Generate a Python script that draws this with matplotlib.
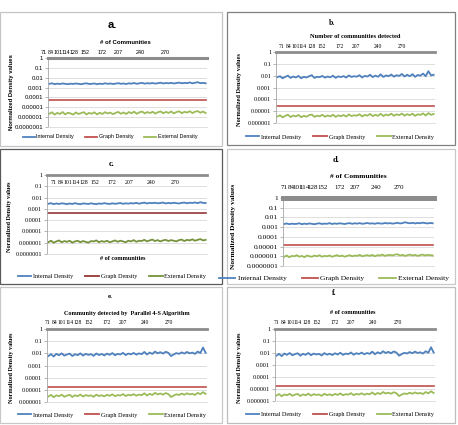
import numpy as np
import matplotlib
matplotlib.use('Agg')
import matplotlib.pyplot as plt
from matplotlib.patches import Rectangle
from matplotlib.lines import Line2D
from matplotlib.ticker import NullLocator

W, H = 458, 425

# ---- data ----
tick_labels = ['71', '84', '101', '114', '128', '152', '172', '207', '240', '270']
tick_pos = [1.2, 3.9, 6.6, 9.3, 12.5, 16.6, 23.2, 29.4, 37.6, 46.9]

a_internal = np.array([2.4, 2.7, 2.2, 2.5, 2.3, 2.6, 2.4, 2.2, 2.5, 2.3,
                       2.6, 2.4, 2.2, 2.5, 2.7, 2.3, 2.4, 2.6, 2.2, 2.5,
                       2.3, 2.7, 2.4, 2.6, 2.3, 2.5, 2.8, 2.4, 2.6, 2.3,
                       2.7, 2.5, 2.9, 2.4, 2.7, 3.0, 2.5, 2.8, 2.6, 2.9,
                       2.5, 2.8, 3.1, 2.6, 2.9, 2.7, 3.0, 2.6, 2.9, 3.2,
                       2.7, 3.0, 2.8, 3.3, 2.7, 3.1, 3.5, 2.8, 3.0, 2.7]) * 1e-3
a_external = np.array([2.2, 3.1, 1.8, 2.7, 2.1, 3.3, 1.9, 2.8, 2.4, 1.8,
                       3.0, 2.1, 2.6, 3.2, 1.9, 2.7, 2.2, 3.1, 1.9, 2.8,
                       2.1, 3.2, 2.4, 2.9, 2.0, 2.7, 3.4, 2.2, 3.0, 2.1,
                       3.3, 2.5, 3.6, 2.2, 3.1, 3.7, 2.4, 3.3, 2.6, 3.5,
                       2.3, 3.2, 3.8, 2.5, 3.4, 2.7, 3.7, 2.4, 3.3, 3.9,
                       2.5, 3.5, 2.9, 4.0, 2.6, 3.6, 4.1, 2.8, 3.7, 2.6]) * 1e-6
a_graph = 5e-5

b_internal = np.array([7.5, 9.0, 6.0, 8.0, 10.0, 6.5, 8.5, 7.0, 9.5, 6.0,
                       8.0, 7.0, 9.0, 11.0, 6.5, 8.0, 7.5, 9.5, 6.8, 8.5,
                       7.2, 10.0, 6.5, 8.8, 7.6, 9.2, 6.9, 10.5, 7.8, 9.0,
                       8.2, 11.0, 7.0, 9.6, 8.4, 12.0, 7.5, 10.2, 8.0, 13.0,
                       7.8, 10.5, 9.0, 12.5, 8.2, 11.0, 9.5, 14.0, 8.5, 12.0,
                       9.0, 13.5, 8.0, 11.5, 10.0, 15.0, 9.0, 24.0, 10.5, 12.0]) * 1e-3
b_external = np.array([3.5, 4.5, 3.0, 4.0, 5.0, 3.2, 4.2, 3.6, 4.8, 3.1,
                       4.0, 3.4, 4.6, 5.2, 3.3, 4.1, 3.7, 4.9, 3.4, 4.3,
                       3.6, 5.0, 3.3, 4.4, 3.8, 4.7, 3.5, 5.3, 3.9, 4.5,
                       4.1, 5.5, 3.6, 4.8, 4.2, 5.8, 3.8, 5.0, 4.0, 6.0,
                       3.9, 5.2, 4.4, 6.1, 4.1, 5.4, 4.6, 6.3, 4.2, 5.6,
                       4.5, 6.2, 4.0, 5.5, 4.8, 6.5, 4.3, 6.8, 4.9, 5.8]) * 1e-6
b_graph = 2.8e-5

c_internal = np.array([2.8, 3.2, 2.6, 3.0, 2.7, 3.1, 2.9, 2.6, 3.0, 2.7,
                       3.2, 2.8, 2.6, 3.0, 2.9, 2.7, 3.1, 2.8, 2.6, 3.0,
                       2.8, 3.2, 2.9, 2.7, 3.1, 2.8, 3.0, 3.3, 2.8, 3.1,
                       2.9, 3.2, 3.0, 3.4, 2.9, 3.2, 3.6, 3.0, 3.4, 3.2,
                       3.5, 3.1, 3.3, 3.6, 3.0, 3.4, 3.1, 3.5, 3.2, 3.0,
                       3.4, 3.6, 3.1, 3.5, 3.3, 3.7, 3.2, 3.9, 3.4, 3.3]) * 1e-3
c_external = np.array([1.1, 1.5, 1.0, 1.3, 1.6, 1.1, 1.4, 1.2, 1.5, 1.0,
                       1.3, 1.5, 1.1, 1.4, 1.2, 1.0, 1.4, 1.3, 1.6, 1.1,
                       1.4, 1.2, 1.5, 1.1, 1.3, 1.6, 1.2, 1.5, 1.3, 1.1,
                       1.5, 1.3, 1.7, 1.2, 1.5, 1.4, 1.8, 1.3, 1.6, 1.9,
                       1.4, 1.7, 1.3, 1.6, 1.8, 1.4, 1.7, 1.5, 1.3, 1.7,
                       1.9, 1.4, 1.8, 1.6, 2.0, 1.5, 1.8, 2.1, 1.6, 1.8]) * 1e-6
c_graph = 4e-4

d_internal = np.array([2.1, 2.4, 2.0, 2.3, 2.1, 2.2, 2.5, 2.0, 2.3, 2.1,
                       2.4, 2.2, 2.0, 2.3, 2.5, 2.1, 2.3, 2.2, 2.6, 2.1,
                       2.4, 2.2, 2.5, 2.3, 2.1, 2.4, 2.6, 2.2, 2.5, 2.3,
                       2.6, 2.2, 2.4, 2.7, 2.3, 2.5, 2.2, 2.6, 2.4, 2.3,
                       2.7, 2.4, 2.6, 2.3, 2.5, 2.8, 2.4, 2.6, 3.2, 2.7,
                       2.5, 2.8, 2.4, 2.7, 2.5, 2.9, 2.6, 2.4, 2.7, 2.5]) * 1e-3
d_external = np.array([0.9, 1.2, 0.8, 1.1, 1.0, 1.3, 0.9, 1.1, 0.8, 1.2,
                       1.0, 0.9, 1.2, 1.0, 1.3, 0.9, 1.1, 1.0, 1.2, 0.9,
                       1.1, 1.3, 1.0, 1.2, 0.9, 1.1, 1.3, 1.0, 1.2, 1.1,
                       1.4, 1.0, 1.2, 1.3, 1.1, 1.4, 1.0, 1.3, 1.2, 1.5,
                       1.1, 1.3, 1.4, 1.2, 1.5, 1.6, 1.2, 1.4, 1.1, 1.3,
                       1.5, 1.2, 1.4, 1.1, 1.3, 1.5, 1.2, 1.4, 1.3, 1.2]) * 1e-6
d_graph = 1.5e-5

e_internal = np.array([6.0, 8.5, 5.5, 9.0, 7.0, 10.0, 6.5, 8.0, 9.5, 6.0,
                       8.5, 7.0, 10.0, 6.5, 9.0, 7.5, 8.5, 6.2, 9.8, 7.2,
                       8.8, 6.8, 9.5, 7.5, 10.5, 7.0, 9.0, 8.0, 11.0, 7.2,
                       9.6, 8.2, 10.8, 7.8, 10.0, 8.5, 13.0, 8.0, 11.5, 9.0,
                       14.0, 10.0, 12.5, 9.5, 13.5, 11.0, 6.0, 8.0, 10.5, 9.0,
                       12.0, 9.5, 13.0, 10.0, 11.5, 9.0, 14.0, 10.5, 30.0, 11.0]) * 1e-3
e_external = np.array([2.8, 3.8, 2.5, 3.5, 3.0, 4.0, 2.7, 3.4, 3.9, 2.6,
                       3.6, 3.0, 4.1, 2.8, 3.7, 3.2, 3.5, 2.7, 4.0, 3.1,
                       3.6, 2.9, 3.9, 3.2, 4.3, 3.0, 3.7, 3.4, 4.5, 3.1,
                       3.9, 3.5, 4.4, 3.3, 4.1, 3.6, 5.2, 3.4, 4.7, 3.8,
                       5.6, 4.2, 5.0, 4.0, 5.4, 4.5, 2.6, 3.4, 4.3, 3.8,
                       4.9, 4.0, 5.2, 4.2, 4.7, 3.8, 5.6, 4.4, 6.5, 4.6]) * 1e-6
e_graph = 1.7e-5

# panel f shows the same curves as panel e
f_internal = e_internal
f_external = e_external
f_graph = e_graph

series_names = ['Internal Density', 'Graph Density', 'External Density']
ytick_vals = [1e-7, 1e-6, 1e-5, 1e-4, 1e-3, 1e-2, 1e-1, 1]
ytick_text = ['0.0000001', '0.000001', '0.00001', '0.0001', '0.001', '0.01', '0.1', '1']

BLUE, RED, GREEN = '#4f81bd', '#c0504d', '#9bbb59'
SANS = ['Liberation Sans', 'DejaVu Sans']
SERIF = ['Liberation Serif', 'DejaVu Serif']


def fx(x):
    return x / W


def fy(y):
    return 1 - y / H


panels = [
    dict(data=(a_internal, a_graph, a_external), box=(0, 12, 222, 146), edge='#c4c4c4',
         plot=(48, 58, 207, 127), font=SANS, title='a.', title_xy=(112, 25), title_fs=8,
         xlabel='# of Communities', xlabel_xy=(125, 43), lab_fs=4.3, tick_fs=4.3, xt_fs=3.9,
         ylabel_xy=(12, 92), legend_xy=(110, 137), leg_fs=3.9, ymin=1e-7,
         xt_dy=6, xt_shift=-3.2, colors=(BLUE, RED, GREEN), top_lw=2.2),
    dict(data=(b_internal, b_graph, b_external), box=(227, 12, 455, 145), edge='#808080',
         plot=(276, 52, 435, 123), font=SERIF, title='b.', title_xy=(332, 23), title_fs=5.5,
         xlabel='Number of communities detected', xlabel_xy=(355, 36), lab_fs=4.6, tick_fs=4.4,
         xt_fs=4.0, ylabel_xy=(240, 90), legend_xy=(340, 137), leg_fs=4.4, ymin=1e-6,
         xt_dy=6, xt_shift=0.3, colors=(BLUE, RED, GREEN), top_lw=2.0),
    dict(data=(c_internal, c_graph, c_external), box=(0, 149, 222, 284), edge='#5a5a5a',
         plot=(47, 175, 207, 254), font=SERIF, title='c.', title_xy=(112, 164), title_fs=6,
         xlabel='# of communities', xlabel_xy=(123, 259), lab_fs=4.4, tick_fs=4.4, xt_fs=4.2,
         ylabel_xy=(10, 217), legend_xy=(112, 276), leg_fs=4.4, ymin=1e-7,
         xt_dy=-8, xt_shift=0.8, colors=(BLUE, '#953735', '#76923c'), top_lw=2.0),
    dict(data=(d_internal, d_graph, d_external), box=(227, 149, 455, 284), edge='#c8c8c8',
         plot=(283, 198, 434, 266), font=SERIF, title='d.', title_xy=(336, 160), title_fs=6,
         xlabel='# of Communities', xlabel_xy=(358, 177), lab_fs=5.4, tick_fs=5.4, xt_fs=5.0,
         ylabel_xy=(233, 226), legend_xy=(334, 278), leg_fs=5.4, ymin=1e-7,
         xt_dy=10, xt_shift=-1.2, colors=(BLUE, RED, GREEN), top_lw=3.6),
    dict(data=(e_internal, e_graph, e_external), box=(0, 287, 222, 423), edge='#c8c8c8',
         plot=(47, 329, 207, 402), font=SERIF, title='e.', title_xy=(110, 297), title_fs=5,
         xlabel='Community detected by  Parallel 4-S Algorithm', xlabel_xy=(127, 313),
         lab_fs=4.4, tick_fs=4.4, xt_fs=4.0, ylabel_xy=(12, 368), legend_xy=(112, 415),
         leg_fs=4.4, ymin=1e-6, xt_dy=6, xt_shift=-1.5,
         colors=(BLUE, RED, GREEN), top_lw=2.0),
    dict(data=(f_internal, f_graph, f_external), box=(227, 287, 455, 423), edge='#bdbdbd',
         plot=(275, 329, 435, 401), font=SERIF, title='f.', title_xy=(334, 293), title_fs=5.5,
         xlabel='# of communities', xlabel_xy=(353, 313), lab_fs=4.4, tick_fs=4.4, xt_fs=4.0,
         ylabel_xy=(240, 368), legend_xy=(340, 414), leg_fs=4.4, ymin=1e-6,
         xt_dy=7, xt_shift=-1.3, colors=(BLUE, RED, GREEN), top_lw=2.0),
]

fig = plt.figure(figsize=(W / 100, H / 100), dpi=100)
fig.patch.set_facecolor('white')

for p in panels:
    bx0, by0, bx1, by1 = p['box']
    fig.add_artist(Rectangle((fx(bx0), fy(by1)), (bx1 - bx0) / W, (by1 - by0) / H,
                             transform=fig.transFigure, fill=False, ec=p['edge'], lw=0.9))

    x0, y0, x1, y1 = p['plot']
    ax = fig.add_axes([fx(x0), fy(y1), (x1 - x0) / W, (y1 - y0) / H])
    internal, graph, external = p['data']
    n = len(internal)
    x = np.arange(n)
    c_int, c_gr, c_ext = p['colors']
    ax.plot(x, internal, color=c_int, lw=1.3)
    ax.plot(x, np.full(n, graph), color=c_gr, lw=1.2)
    ax.plot(x, external, color=c_ext, lw=1.3)

    ax.set_yscale('log')
    ax.set_ylim(p['ymin'], 1)
    ax.set_xlim(-0.5, n - 0.5)
    ax.yaxis.set_minor_locator(NullLocator())
    vals = [v for v in ytick_vals if v >= p['ymin']]
    txt = [t for v, t in zip(ytick_vals, ytick_text) if v >= p['ymin']]
    ax.set_yticks(vals)
    ax.set_yticklabels(txt, fontfamily=p['font'], fontsize=p['tick_fs'])
    ax.grid(axis='y', color='#d9d9d9', lw=0.6)
    ax.set_axisbelow(True)

    # category labels along the top axis line
    ax.set_xticks([])
    for pos, lab in zip(tick_pos, tick_labels):
        ax.annotate(lab, xy=(pos + p['xt_shift'], 1), xycoords=ax.get_xaxis_transform(),
                    xytext=(0, p['xt_dy'] * 0.72), textcoords='offset points',
                    ha='center', va='center', fontsize=p['xt_fs'], fontfamily=p['font'])
    ax.tick_params(axis='y', length=2, width=0.5, color='#999999', pad=1.5)

    ax.spines['right'].set_visible(False)
    ax.spines['top'].set_color('#8c8c8c')
    ax.spines['top'].set_linewidth(p['top_lw'])
    ax.spines['left'].set_color('#a6a6a6')
    ax.spines['left'].set_linewidth(0.6)
    ax.spines['bottom'].set_color('#d9d9d9')
    ax.spines['bottom'].set_linewidth(0.6)

    tx, ty = p['title_xy']
    fig.text(fx(tx), fy(ty), p['title'], ha='center', va='center', fontweight='bold',
             fontsize=p['title_fs'], fontfamily=p['font'])
    lx, ly = p['xlabel_xy']
    fig.text(fx(lx), fy(ly), p['xlabel'], ha='center', va='center', fontweight='bold',
             fontsize=p['lab_fs'], fontfamily=p['font'])
    yx, yy = p['ylabel_xy']
    fig.text(fx(yx), fy(yy), 'Normalized Density values', ha='center', va='center',
             rotation=90, fontweight='bold', fontsize=p['lab_fs'], fontfamily=p['font'])

    handles = [Line2D([], [], color=c, lw=1.3) for c in p['colors']]
    gx, gy = p['legend_xy']
    fig.legend(handles, series_names, loc='center', bbox_to_anchor=(fx(gx), fy(gy)),
               ncol=3, frameon=False, handlelength=2.2, handletextpad=0.3,
               columnspacing=2.0, borderpad=0,
               prop={'family': p['font'], 'size': p['leg_fs']})

fig.savefig('out.png', dpi=100, facecolor='white')
